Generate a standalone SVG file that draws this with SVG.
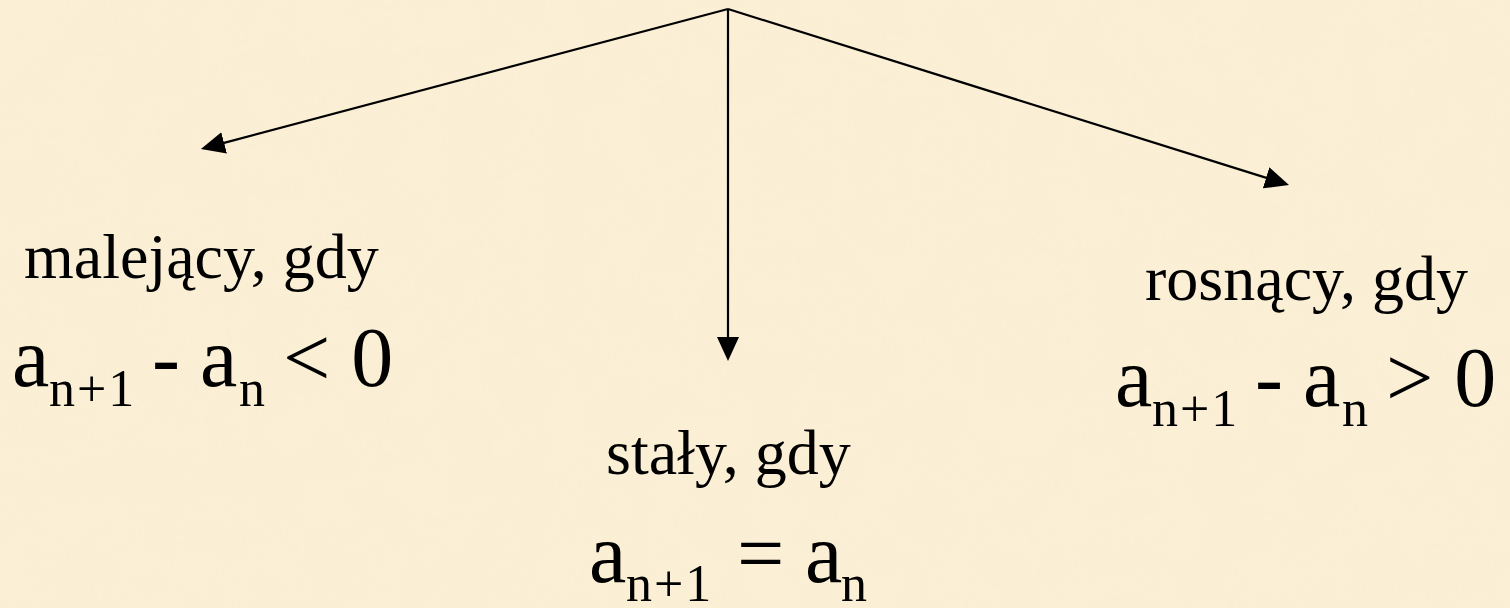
<svg xmlns="http://www.w3.org/2000/svg" width="1510" height="608" viewBox="0 0 1510 608">
  <style>
    .lbl { font-family: "Liberation Serif", "Times New Roman", serif; font-size: 64px; fill: #000; }
    .fx { font-family: "Liberation Serif", "Times New Roman", serif; font-size: 84px; fill: #000; }
    .sub { font-size: 52px; letter-spacing: 2px; }
    .conn { stroke: #000; stroke-width: 2.2; fill: none; marker-end: url(#ah); }
  </style>
  <defs>
    <marker id="ah" markerUnits="userSpaceOnUse" markerWidth="24" markerHeight="22" refX="2" refY="11" orient="auto" viewBox="0 0 24 22">
      <path d="M0,0 L24,11 L0,22 z" fill="#000"/>
    </marker>
    <filter id="tex" x="0" y="0" width="100%" height="100%">
      <feTurbulence type="fractalNoise" baseFrequency="0.02" numOctaves="3" seed="4" result="n"/>
      <feColorMatrix in="n" type="matrix" values="0 0 0 0 0.85  0 0 0 0 0.75  0 0 0 0 0.55  0 0 0 0.35 -0.05"/>
    </filter>
  </defs>
  <rect width="1510" height="608" fill="#FBF0D6"/>
  <rect width="1510" height="608" filter="url(#tex)" opacity="0.3"/>

  <g id="connectors">
    <line class="conn" x1="728" y1="9" x2="222.2" y2="143.4"/>
    <line class="conn" x1="728" y1="9" x2="728" y2="339"/>
    <line class="conn" x1="728" y1="9" x2="1268" y2="178.4"/>
  </g>

  <g id="node-malejacy">
    <text class="lbl" x="24" y="278">malejący, gdy</text>
    <text class="fx" x="12" y="386">a<tspan class="sub" x="49" dy="20">n+1</tspan><tspan x="152" dy="-20">-</tspan><tspan x="200">a</tspan><tspan class="sub" x="239" dy="20">n</tspan><tspan x="283" dy="-20">&lt; 0</tspan></text>
  </g>

  <g id="node-staly">
    <text class="lbl" x="606" y="474">stały, gdy</text>
    <text class="fx" x="589" y="582">a<tspan class="sub" x="626" dy="19">n+1</tspan><tspan x="737" dy="-19">=</tspan><tspan x="805">a</tspan><tspan class="sub" x="841" dy="19">n</tspan></text>
  </g>

  <g id="node-rosnacy">
    <text class="lbl" x="1145" y="300">rosnący, gdy</text>
    <text class="fx" x="1115" y="406">a<tspan class="sub" x="1152" dy="20">n+1</tspan><tspan x="1255" dy="-20">-</tspan><tspan x="1303">a</tspan><tspan class="sub" x="1342" dy="20">n</tspan><tspan x="1386" dy="-20">&gt; 0</tspan></text>
  </g>
</svg>
